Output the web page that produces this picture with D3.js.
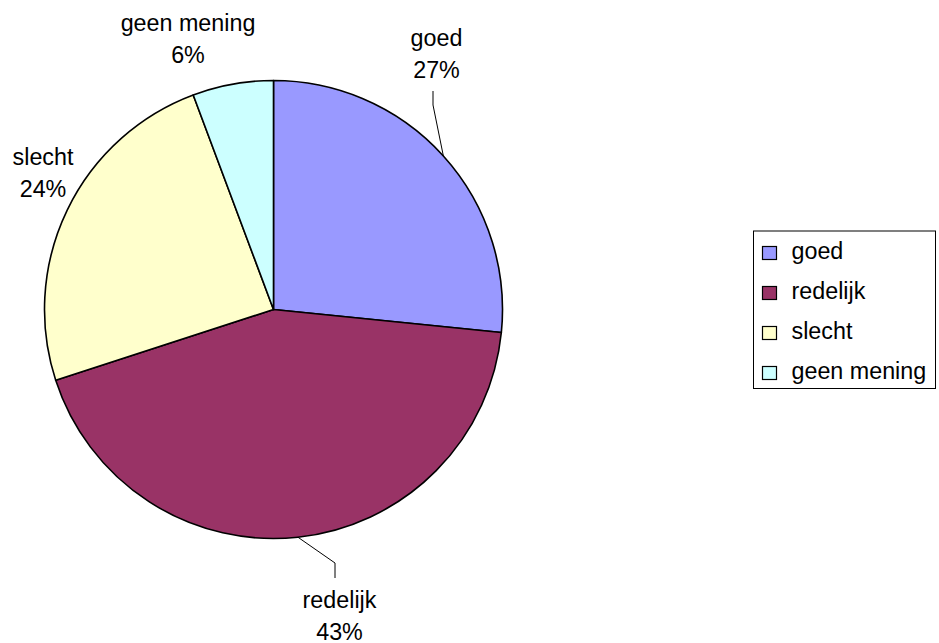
<!DOCTYPE html>
<html>
<head>
<meta charset="utf-8">
<script src="https://cdn.jsdelivr.net/npm/d3@7/dist/d3.min.js"></script>
<style>
  html, body { margin: 0; padding: 0; background: #fff; }
  svg { display: block; }
  text { font-family: "Liberation Sans", Arial, sans-serif; fill: #000; }
</style>
</head>
<body>
<svg id="chart" width="939" height="643"></svg>
<script>
// ---- data ----
const categories = ["goed", "redelijk", "slecht", "geen mening"];
const values = [26.6, 43.4, 24.3, 5.7];
const percentLabels = ["27%", "43%", "24%", "6%"];
const colors = ["#9999FF", "#993366", "#FFFFCC", "#CCFFFF"];

// ---- layout ----
const W = 939, H = 643;
const cx = 273.5, cy = 309.5, R = 229;
const fontSize = 23.3;
const lineGap = 31.5;
// label anchor (centre x, first baseline y) and optional leader elbow
const labelLayout = [
  { x: 436.5, y: 46, leader: { elbow: [433, 105], end: [433, 91] } },
  { x: 339.5, y: 608, leader: { elbow: [335, 563], end: [335, 578] } },
  { x: 43, y: 165, leader: null },
  { x: 188, y: 31, leader: null }
];

const svg = d3.select("#chart");
const g = svg.append("g").attr("transform", `translate(${cx},${cy})`);

const pie = d3.pie().sort(null).value(d => d.value).startAngle(0).endAngle(2 * Math.PI);
const data = categories.map((c, i) => ({ name: c, value: values[i], color: colors[i], pct: percentLabels[i] }));
const arcs = pie(data);
const arc = d3.arc().innerRadius(0).outerRadius(R);

g.selectAll("path.slice")
  .data(arcs)
  .enter().append("path")
  .attr("class", "slice")
  .attr("d", arc)
  .attr("fill", d => d.data.color)
  .attr("stroke", "#000")
  .attr("stroke-width", 1.6)
  .attr("stroke-linejoin", "round");

// leader lines
arcs.forEach((a, i) => {
  const L = labelLayout[i];
  if (!L.leader) return;
  const mid = (a.startAngle + a.endAngle) / 2;
  const px = cx + R * Math.sin(mid), py = cy - R * Math.cos(mid);
  svg.append("polyline")
    .attr("points", [[px, py], L.leader.elbow, L.leader.end].map(p => p.join(",")).join(" "))
    .attr("fill", "none")
    .attr("stroke", "#000")
    .attr("stroke-width", 1);
});

// data labels
arcs.forEach((a, i) => {
  const L = labelLayout[i];
  const t = svg.append("text")
    .attr("text-anchor", "middle")
    .attr("font-size", fontSize);
  t.append("tspan").attr("x", L.x).attr("y", L.y).text(a.data.name);
  t.append("tspan").attr("x", L.x).attr("y", L.y + lineGap).text(a.data.pct);
});

// legend
const lg = { x: 753, y: 230.5, w: 182, h: 157.5, rowH: 40, firstRow: 246, sq: 14 };
svg.append("rect")
  .attr("x", lg.x + 0.5).attr("y", lg.y + 0.5)
  .attr("width", lg.w).attr("height", lg.h)
  .attr("fill", "#fff").attr("stroke", "#000").attr("stroke-width", 1);

const rows = svg.selectAll("g.leg").data(data).enter().append("g").attr("class", "leg")
  .attr("transform", (d, i) => `translate(${lg.x + 9},${lg.firstRow + i * lg.rowH})`);
rows.append("rect")
  .attr("x", 0.5).attr("y", 0.5)
  .attr("width", lg.sq).attr("height", lg.sq - 1)
  .attr("fill", d => d.color)
  .attr("stroke", "#000").attr("stroke-width", 1.2);
rows.append("text")
  .attr("x", 29.5).attr("y", 12.5)
  .attr("font-size", fontSize)
  .text(d => d.name);
</script>
</body>
</html>
